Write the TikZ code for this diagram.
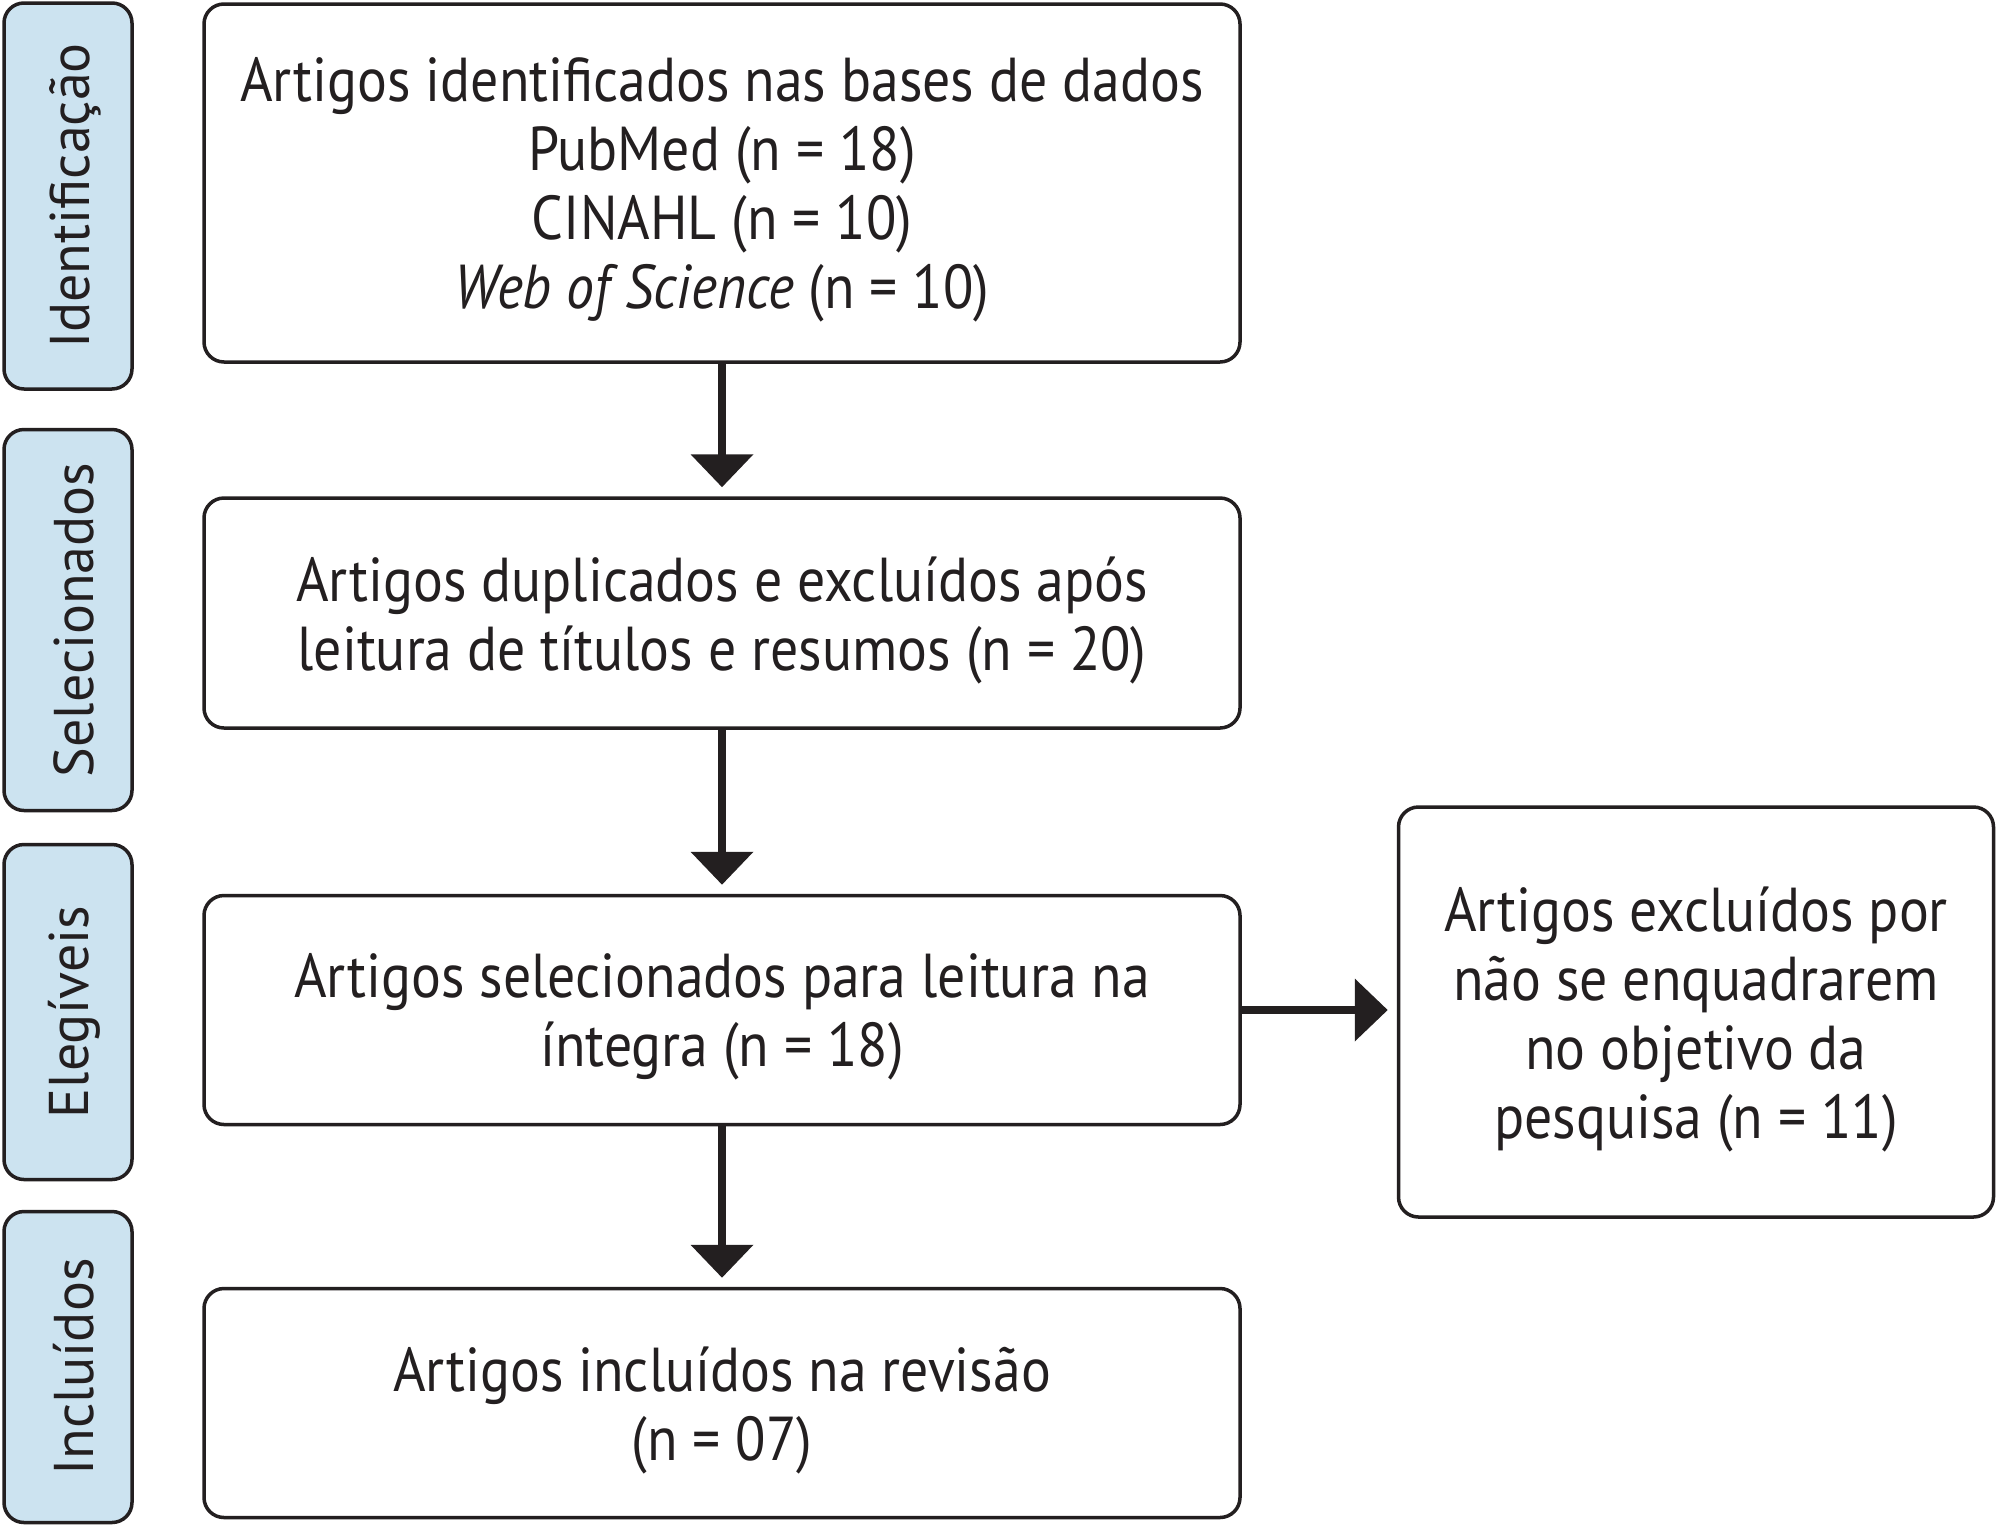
\documentclass[tikz,border=0pt]{standalone}
\usepackage{fontspec}
\setmainfont[FakeStretch=0.9]{PT Sans}
\newfontfamily\labfont{PT Sans}
\usetikzlibrary{arrows.meta}
\definecolor{ink}{RGB}{35,31,32}
\definecolor{labblue}{RGB}{204,227,240}
\tikzset{
  mainbox/.style={draw=ink, line width=1.75pt, rounded corners=10pt, fill=white,
    minimum width=#1, inner sep=0pt},
  maintext/.style={align=center, inner sep=0pt, text=ink, yshift=-3.5pt,
    font=\fontsize{31}{34.5}\selectfont},
  labbox/.style={draw=ink, line width=1.75pt, rounded corners=10pt, fill=labblue,
    minimum width=64pt, inner sep=0pt},
  labtext/.style={rotate=90, text=ink, font=\labfont\fontsize{28}{34}\selectfont, inner sep=0pt},
  flow/.style={draw=ink, line width=4pt, -{Triangle[width=30.5pt,length=16.5pt]}, shorten >=4.5pt}
}
\begin{document}
\begin{tikzpicture}[x=0.5pt, y=-0.5pt]
\useasboundingbox (0,0) rectangle (2000,1526);
% stage labels
\node[labbox, minimum height=193pt] (l1) at (68,196) {};
\node[labtext] (t1) at ([xshift=3.5pt]l1.center) {Identificação};
\node[labbox, minimum height=190.5pt] (l2) at (68,620) {};
\node[labtext] (t2) at ([xshift=3pt]l2.center) {Selecionados};
\node[labbox, minimum height=167.5pt] (l3) at (68,1012) {};
\node[labtext] (t3) at ([xshift=3pt]l3.center) {Elegíveis};
\node[labbox, minimum height=155.5pt] (l4) at (68,1367) {};
\node[labtext] (t4) at ([xshift=3pt]l4.center) {Incluídos};
% main boxes
\node[mainbox=518pt, minimum height=179pt] (b1) at (722,183) {};
\node[maintext] (x1) at (b1.center)
  {Artigos identificados nas bases de dados\\PubMed (n = 18)\\CINAHL (n = 10)\\\textit{Web of Science} (n = 10)};
\node[mainbox=518pt, minimum height=115pt] (b2) at (722,613) {};
\node[maintext] (x2) at (b2.center)
  {Artigos duplicados e excluídos após\\leitura de títulos e resumos (n = 20)};
\node[mainbox=518pt, minimum height=114.5pt] (b3) at (722,1010) {};
\node[maintext] (x3) at (b3.center)
  {Artigos selecionados para leitura na\\íntegra (n = 18)};
\node[mainbox=518pt, minimum height=114.5pt] (b4) at (722,1403) {};
\node[maintext] (x4) at (b4.center)
  {Artigos incluídos na revisão\\(n = 07)};
\node[mainbox=297.5pt, minimum height=205pt] (r) at (1696,1012) {};
\node[maintext] (xr) at (r.center)
  {Artigos excluídos por\\não se enquadrarem\\no objetivo da\\pesquisa (n = 11)};
% connectors
\draw[flow] (b1.south) -- (b2.north);
\draw[flow] (b2.south) -- (b3.north);
\draw[flow] (b3.south) -- (b4.north);
\draw[flow] (b3.east) -- (b3.east -| r.west);
\end{tikzpicture}
\end{document}
